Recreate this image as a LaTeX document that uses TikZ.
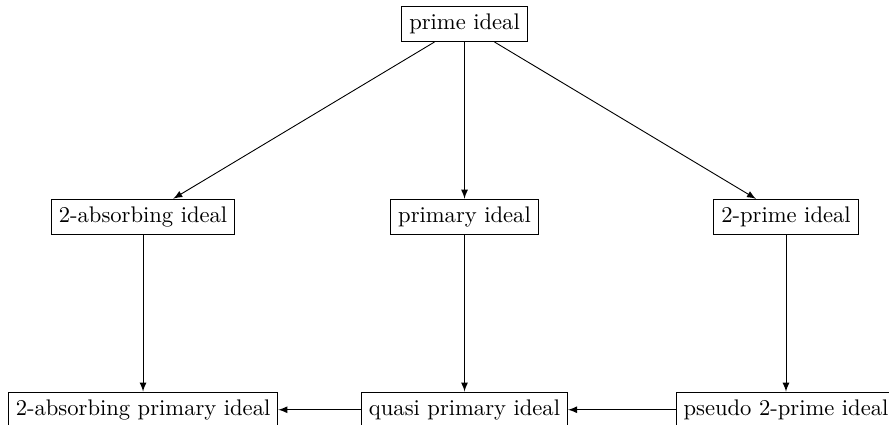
\documentclass[tikz,border=0pt]{standalone}
\begin{document}
\begin{tikzpicture}[
  box/.style={draw, rectangle},
  arr/.style={-latex}
]
\useasboundingbox (-7.225,0.373) rectangle (6.602,-6.236);
\node[box] (prime) at (0,0) {prime ideal};
\node[box] (abs) at (-5,-3) {2-absorbing ideal};
\node[box] (primary) at (0,-3) {primary ideal};
\node[box] (twoprime) at (5,-3) {2-prime ideal};
\node[box] (absprim) at (-5,-6) {2-absorbing primary ideal};
\node[box] (quasi) at (0,-6) {quasi primary ideal};
\node[box] (pseudo) at (5,-6) {pseudo 2-prime ideal};
\draw[arr] (prime) -- (abs);
\draw[arr] (prime) -- (primary);
\draw[arr] (prime) -- (twoprime);
\draw[arr] (abs) -- (absprim);
\draw[arr] (primary) -- (quasi);
\draw[arr] (twoprime) -- (pseudo);
\draw[arr] (quasi) -- (absprim);
\draw[arr] (pseudo) -- (quasi);
\end{tikzpicture}
\end{document}
